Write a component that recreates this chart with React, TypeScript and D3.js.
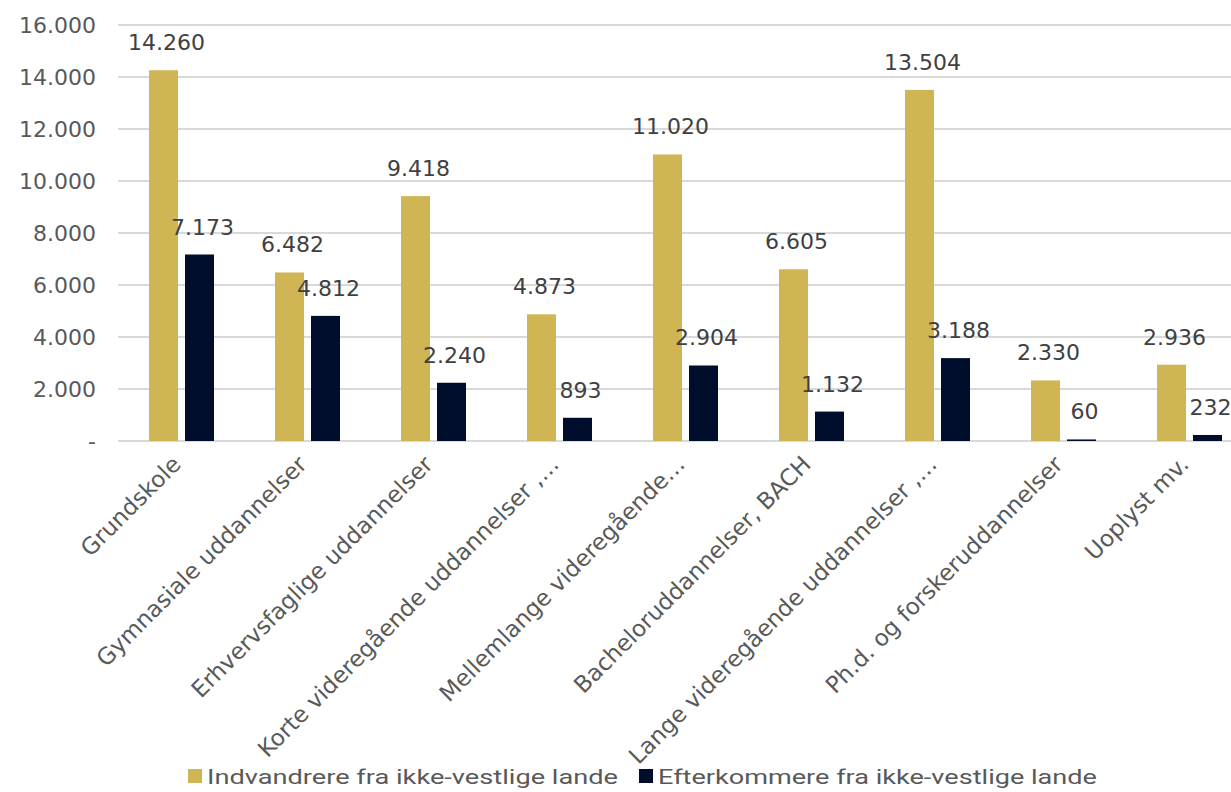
import React from "react";
import * as d3 from "d3";

const categories = [
  "Grundskole",
  "Gymnasiale uddannelser",
  "Erhvervsfaglige uddannelser",
  "Korte videregående uddannelser ,…",
  "Mellemlange videregående…",
  "Bacheloruddannelser, BACH",
  "Lange videregående uddannelser ,…",
  "Ph.d. og forskeruddannelser",
  "Uoplyst mv.",
];
const seriesNames = [
  "Indvandrere fra ikke-vestlige lande",
  "Efterkommere fra ikke-vestlige lande",
];
const indvandrere = [14260, 6482, 9418, 4873, 11020, 6605, 13504, 2330, 2936];
const efterkommere = [7173, 4812, 2240, 893, 2904, 1132, 3188, 60, 232];
const yTicks = [0, 2000, 4000, 6000, 8000, 10000, 12000, 14000, 16000];
const colors = ["#CFB553", "#000D2D"];

const W = 1231;
const H = 792;
const fmt = (v: number) =>
  v === 0 ? "-" : d3.format(",")(v).replace(/,/g, ".");

export default function App() {
  const x0 = d3.scaleBand<string>().domain(categories).range([118.5, 1252.5]).padding(0);
  const x1 = d3
    .scaleBand<string>()
    .domain(seriesNames)
    .range([0, x0.bandwidth()])
    .paddingInner(7 / 36)
    .paddingOuter(0.847);
  const y = d3.scaleLinear().domain([0, 16000]).range([441, 25]);
  const series = [indvandrere, efterkommere];
  const font = "'DejaVu Sans', sans-serif";

  return (
    <svg
      width={W}
      height={H}
      style={{ position: "absolute", left: 0, top: 0, background: "#fff" }}
    >
      {yTicks.map((t) => (
        <g key={t}>
          <line x1={118} x2={W} y1={y(t)} y2={y(t)} stroke="#d9d9d9" strokeWidth={2} />
          <text
            x={96}
            y={y(t)}
            dy="0.36em"
            textAnchor="end"
            fontFamily={font}
            fontSize={22}
            fill="#595959"
          >
            {fmt(t)}
          </text>
        </g>
      ))}
      {categories.map((c, i) => (
        <g key={c} transform={`translate(${x0(c)},0)`}>
          {series.map((s, j) => {
            const bx = x1(seriesNames[j])!;
            const bw = x1.bandwidth();
            return (
              <g key={j}>
                <rect x={bx} y={y(s[i])} width={bw} height={y(0) - y(s[i])} fill={colors[j]} />
                <text
                  x={bx + bw / 2 + 3}
                  y={y(s[i]) - 20}
                  textAnchor="middle"
                  fontFamily={font}
                  fontSize={22}
                  fill="#404040"
                >
                  {fmt(s[i])}
                </text>
              </g>
            );
          })}
        </g>
      ))}
      {categories.map((c) => {
        const cx = x0(c)! + x0.bandwidth() / 2;
        return (
          <text
            key={c}
            transform={`translate(${cx - 5},${460}) rotate(-45)`}
            textAnchor="end"
            dy="0.35em"
            fontFamily={font}
            fontSize={23}
            fill="#595959"
          >
            {c}
          </text>
        );
      })}
      <g fontFamily="Roboto, sans-serif" fontSize={21} fill="#595959">
        <rect x={188} y={769} width={14} height={14} fill={colors[0]} />
        <text x={207} y={784} textLength={411} lengthAdjust="spacingAndGlyphs">
          {seriesNames[0]}
        </text>
        <rect x={639} y={769} width={14} height={14} fill={colors[1]} />
        <text x={658} y={784} textLength={439} lengthAdjust="spacingAndGlyphs">
          {seriesNames[1]}
        </text>
      </g>
    </svg>
  );
}
